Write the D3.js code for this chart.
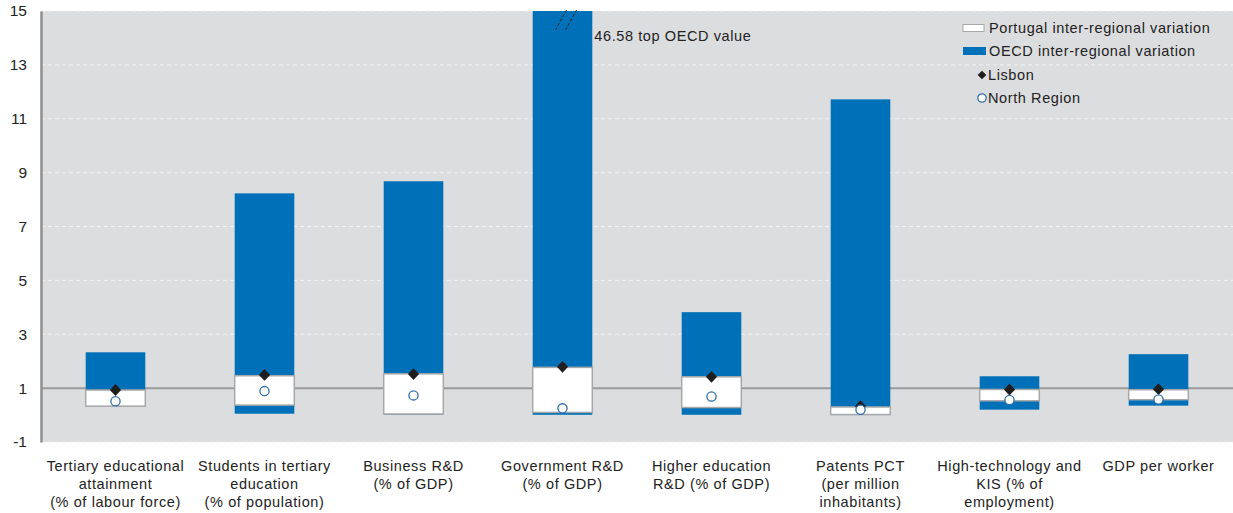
<!DOCTYPE html>
<html>
<head>
<meta charset="utf-8">
<script src="https://cdn.jsdelivr.net/npm/d3@7"></script>
<style>
  html, body { margin: 0; padding: 0; background: #fff; }
  svg { display: block; font-family: "Liberation Sans", Arial, sans-serif; }
</style>
</head>
<body>
<svg id="chart" width="1233" height="513"></svg>
<script>
const categories = [
  ["Tertiary educational", "attainment", "(% of labour force)"],
  ["Students in tertiary", "education", "(% of population)"],
  ["Business R&D", "(% of GDP)"],
  ["Government R&D", "(% of GDP)"],
  ["Higher education", "R&D (% of GDP)"],
  ["Patents PCT", "(per million", "inhabitants)"],
  ["High-technology and", "KIS (% of", "employment)"],
  ["GDP per worker"]
];
const oecdMin = [0.33, 0.05, 0.02, 0.01, 0.01, 0.00, 0.20, 0.35];
const oecdMax = [2.33, 8.23, 8.68, 46.58, 3.82, 11.72, 1.44, 2.26];
const ptMin   = [0.33, 0.37, 0.04, 0.10, 0.28, 0.02, 0.53, 0.57];
const ptMax   = [0.93, 1.46, 1.53, 1.77, 1.42, 0.30, 0.95, 0.94];
const lisbon  = [0.93, 1.49, 1.52, 1.79, 1.42, 0.33, 0.95, 0.96];
const north   = [0.51, 0.89, 0.73, 0.25, 0.69, 0.20, 0.56, 0.58];
const yTicks  = [-1, 1, 3, 5, 7, 9, 11, 13, 15];
const legendLabels = ["Portugal inter-regional variation", "OECD inter-regional variation", "Lisbon", "North Region"];
const topNote = "46.58 top OECD value";

const svg = d3.select("#chart");
const L = 41, R = 1233, T = 11, B = 442;
const FS = 14.5, LS = 0.6;
const keys = categories.map((c, i) => i);
const x = d3.scaleBand().domain(keys).range([L, R]).paddingInner(0.6).paddingOuter(0.3);
const y = d3.scaleLinear().domain([-1, 15]).range([B, T]).clamp(true);

// background
svg.append("rect").attr("x", L).attr("y", T).attr("width", R - L).attr("height", B - T).attr("fill", "#dcdddf");

// gridlines
yTicks.forEach(t => {
  if (t === -1) return;
  svg.append("line")
    .attr("x1", L).attr("x2", R).attr("y1", y(t)).attr("y2", y(t))
    .attr("stroke", t === 1 ? "#9a9a9a" : "#f2f2f2")
    .attr("stroke-width", t === 1 ? 2 : 1)
    .attr("stroke-dasharray", t === 1 ? null : "4,3");
});
svg.append("line").attr("x1", L).attr("x2", R).attr("y1", B).attr("y2", B)
  .attr("stroke", "#ececec").attr("stroke-dasharray", "4,3");

// y axis
const yAxis = d3.axisLeft(y).tickValues(yTicks).tickSize(0).tickPadding(14).tickFormat(d => String(d));
const ga = svg.append("g").attr("transform", `translate(${L},0)`).call(yAxis);
ga.select(".domain").attr("stroke", "#8e8e8e").attr("stroke-width", 2.5);
ga.selectAll("text").attr("font-size", 15.5).attr("fill", "#222")
  .attr("font-family", "Liberation Sans, Arial, sans-serif");

// OECD bars
svg.selectAll(".oecd").data(keys).enter().append("rect")
  .attr("x", i => x(i)).attr("width", x.bandwidth())
  .attr("y", i => y(oecdMax[i])).attr("height", i => y(oecdMin[i]) - y(oecdMax[i]))
  .attr("fill", "#0071b9");

// Portugal boxes
svg.selectAll(".pt").data(keys).enter().append("rect")
  .attr("x", i => x(i)).attr("width", x.bandwidth())
  .attr("y", i => y(ptMax[i])).attr("height", i => y(ptMin[i]) - y(ptMax[i]))
  .attr("fill", "#fff").attr("stroke", "#a8a8a8").attr("stroke-width", 1.5);

// break marks on clipped bar
keys.filter(i => oecdMax[i] > 15).forEach(i => {
  const cx = x(i) + x.bandwidth() / 2;
  [-6, 4].forEach(dx => {
    svg.append("line")
      .attr("x1", cx + dx - 1).attr("y1", y(15) + 19)
      .attr("x2", cx + dx + 10).attr("y2", y(15) - 1)
      .attr("stroke", "#222").attr("stroke-width", 1).attr("stroke-dasharray", "3,2");
  });
  svg.append("text").attr("x", x(i) + x.bandwidth() + 2).attr("y", y(15) + 30)
    .attr("font-size", FS).attr("letter-spacing", LS).attr("fill", "#222").text(topNote);
});

// markers
const diamond = d3.symbol().type(d3.symbolSquare).size(70);
svg.selectAll(".lis").data(keys).enter().append("path")
  .attr("d", diamond)
  .attr("transform", i => `translate(${x(i) + x.bandwidth() / 2},${y(lisbon[i])}) scale(0.95,1) rotate(45)`)
  .attr("fill", "#1e1e1e");
svg.selectAll(".nor").data(keys).enter().append("circle")
  .attr("cx", i => x(i) + x.bandwidth() / 2).attr("cy", i => y(north[i])).attr("r", 4.6)
  .attr("fill", "#fff").attr("stroke", "#2f6fad").attr("stroke-width", 1.3);

// category labels
keys.forEach(i => {
  const t = svg.append("text").attr("x", x(i) + x.bandwidth() / 2).attr("y", 471)
    .attr("text-anchor", "middle").attr("font-size", FS).attr("letter-spacing", LS).attr("fill", "#222");
  categories[i].forEach((line, j) => {
    t.append("tspan").attr("x", x(i) + x.bandwidth() / 2).attr("dy", j === 0 ? 0 : 18).text(line);
  });
});

// legend
const lx = 963, ly = [28, 51, 75, 98];
svg.append("rect").attr("x", lx).attr("y", ly[0] - 3.5).attr("width", 21).attr("height", 7)
  .attr("fill", "#fff").attr("stroke", "#a8a8a8").attr("stroke-width", 1);
svg.append("rect").attr("x", lx).attr("y", ly[1] - 4).attr("width", 23).attr("height", 8).attr("fill", "#0071b9");
svg.append("path").attr("d", d3.symbol().type(d3.symbolSquare).size(38))
  .attr("transform", `translate(${lx + 19},${ly[2]}) rotate(45)`).attr("fill", "#1e1e1e");
svg.append("circle").attr("cx", lx + 19).attr("cy", ly[3]).attr("r", 4.2)
  .attr("fill", "#fff").attr("stroke", "#2f6fad").attr("stroke-width", 1.3);
legendLabels.forEach((lab, k) => {
  svg.append("text").attr("x", k < 2 ? 989 : 988).attr("y", ly[k] + 5)
    .attr("font-size", FS).attr("letter-spacing", LS).attr("fill", "#222").text(lab);
});
</script>
</body>
</html>
